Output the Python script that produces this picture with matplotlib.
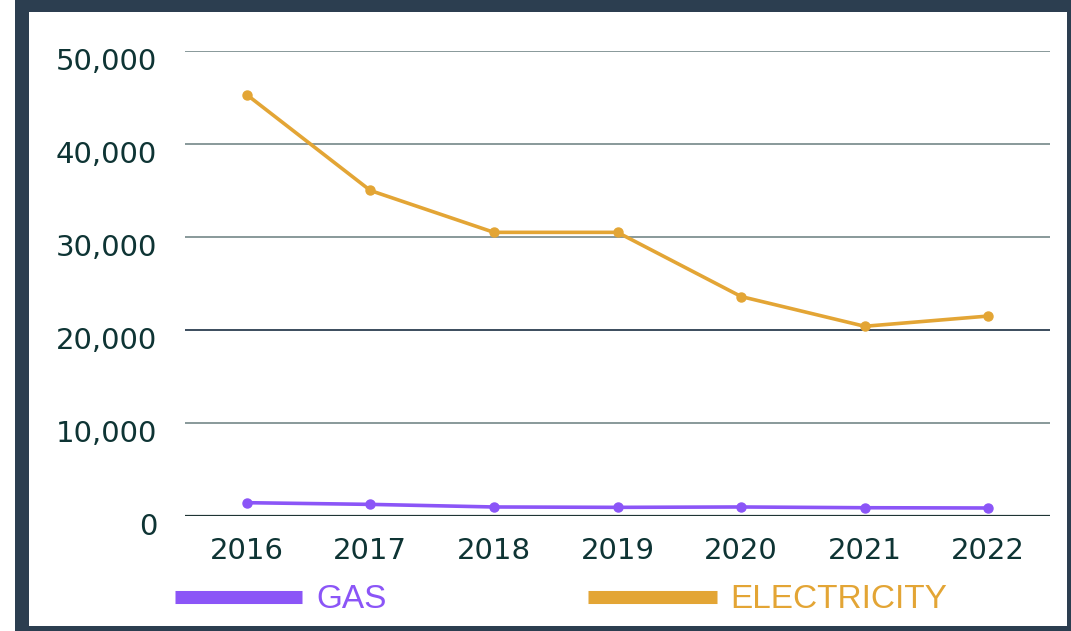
#!/usr/bin/env python3
"""Consumo annuo gas / elettricità 2016-2022."""

import matplotlib
matplotlib.use("Agg")
import matplotlib.pyplot as plt
from matplotlib.lines import Line2D
from matplotlib.patches import Rectangle
from matplotlib.ticker import FuncFormatter
from matplotlib.transforms import ScaledTranslation

# dati
years = ['2016', '2017', '2018', '2019', '2020', '2021', '2022']
gas = [1430, 1250, 970, 930, 970, 890, 860]
electricity = [45300, 35000, 30500, 30500, 23600, 20400, 21500]
series_names = ['GAS', 'ELECTRICITY']
yticks = [0, 10000, 20000, 30000, 40000, 50000]

GAS_C = '#8B55F7'
ELEC_C = '#E3A535'
FRAME_C = '#2C3E50'
TXT_C = '#0E3434'

W, H = 1071, 631


def fx(x):
    return x / W


def fy(y):
    return 1 - y / H


fig = plt.figure(figsize=(W / 100, H / 100), dpi=100)

# cornice scura + pannello bianco
fig.patches.append(Rectangle((fx(15), 0), fx(W - 15), 1, transform=fig.transFigure,
                             facecolor=FRAME_C, edgecolor='none', zorder=-10))
fig.patches.append(Rectangle((fx(29), fy(626)), fx(1067 - 29), (626 - 12) / H,
                             transform=fig.transFigure, facecolor='white',
                             edgecolor='none', zorder=-9))

ax = fig.add_axes([fx(185), fy(516), fx(1050 - 185), (516 - 51) / H])
ax.patch.set_alpha(0)
for s in ax.spines.values():
    s.set_visible(False)

for v in yticks:
    dark = v in (0, 20000)
    ax.axhline(v, color='#1F3535' if v == 0 else (FRAME_C if dark else '#7F9192'),
               lw=1.6 if v == 0 else 1.3, zorder=1)

x = range(len(years))
ax.plot(x, electricity, color=ELEC_C, lw=2.6, marker='o', ms=6.5,
        clip_on=False, zorder=3)
ax.plot(x, gas, color=GAS_C, lw=2.6, marker='o', ms=6.5,
        clip_on=False, zorder=3)

ax.set_xlim(-0.5, len(years) - 0.5)
ax.set_ylim(0, 50000)
ax.set_xticks(list(x))
ax.set_xticklabels(years)
ax.set_yticks(yticks)
ax.yaxis.set_major_formatter(FuncFormatter(lambda v, p: f"{int(v):,}"))
ax.tick_params(axis='both', length=0, labelsize=21, labelcolor=TXT_C)
ax.tick_params(axis='y', pad=20)
ax.tick_params(axis='x', pad=15)

# etichette y un po' sotto le linee della griglia, come nell'originale
shift = ScaledTranslation(0, -8 / 100, fig.dpi_scale_trans)
for t in ax.yaxis.get_major_ticks():
    t.label1.set_transform(t.label1.get_transform() + shift)

# legenda manuale sotto l'asse
leg = [(175, 302, 316, GAS_C), (588, 717, 730, ELEC_C)]
for name, (x0, x1, xt, c) in zip(series_names, leg):
    fig.add_artist(Line2D([fx(x0), fx(x1)], [fy(596.5), fy(596.5)],
                          transform=fig.transFigure, color=c, lw=9.4,
                          solid_capstyle='butt'))
    fig.text(fx(xt), fy(608), name, color=c, fontsize=24,
             family='Liberation Sans', ha='left', va='baseline')

fig.savefig('out.png', dpi=100)
